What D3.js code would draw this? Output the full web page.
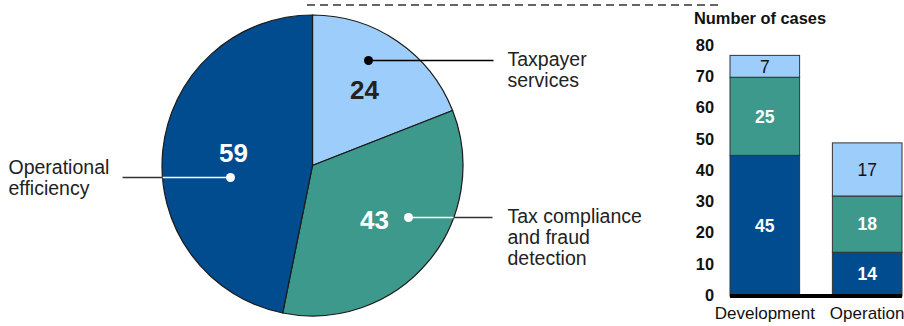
<!DOCTYPE html>
<html><head><meta charset="utf-8">
<script src="https://cdn.jsdelivr.net/npm/d3@7"></script>
<style>body{margin:0;background:#fff}svg{display:block}text{font-family:"Liberation Sans",Arial,sans-serif}</style>
</head><body>
<svg id="c" width="904" height="326"></svg>
<script>
const pieCategories = ["Taxpayer services", "Tax compliance and fraud detection", "Operational efficiency"];
const pieValues = [24, 43, 59];
const pieColors = ["#9dcdfa", "#3d998c", "#004c8f"];
const barCategories = ["Development", "Operation"];
const barSeriesNames = ["Operational efficiency", "Tax compliance and fraud detection", "Taxpayer services"];
const barValues = { "Operational efficiency": [45, 14], "Tax compliance and fraud detection": [25, 18], "Taxpayer services": [7, 17] };
const barColors = ["#004c8f", "#3d998c", "#9dcdfa"];
const yTicks = [0, 10, 20, 30, 40, 50, 60, 70, 80];

const svg = d3.select("#c");

// dashed line on top
svg.append("line").attr("x1", 307).attr("x2", 721).attr("y1", 5).attr("y2", 5)
  .attr("stroke", "#333").attr("stroke-width", 1.3).attr("stroke-dasharray", "8,5");

// PIE
const cx = 312.5, cy = 165.5, R = 150.5;
const g = svg.append("g").attr("transform", `translate(${cx},${cy})`);
const pie = d3.pie().sort(null).value(d => d)(pieValues);
const arc = d3.arc().innerRadius(0).outerRadius(R);
g.selectAll("path").data(pie).join("path")
  .attr("d", arc).attr("fill", (d, i) => pieColors[i])
  .attr("stroke", "#1a1a1a").attr("stroke-width", 1.2);

const labelInfo = [
  { val: pieValues[0], tx: 52, ty: -76, tcol: "#222", dot: [56, -105], dotCol: "#000", lineEnd: 181, inner: "#000", outer: "#000", text: ["Taxpayer", "services"], textX: 195, textY: -99.5 },
  { val: pieValues[1], tx: 62, ty: 54, tcol: "#fff", dot: [96, 52], dotCol: "#fff", lineEnd: 180, inner: "#fff", outer: "#333", text: ["Tax compliance", "and fraud", "detection"], textX: 195, textY: 57 },
  { val: pieValues[2], tx: -79, ty: -13, tcol: "#fff", dot: [-82, 12], dotCol: "#fff", lineEnd: -190, inner: "#fff", outer: "#333", text: ["Operational", "efficiency"], textX: -304, textY: 8 }
];
labelInfo.forEach(L => {
  g.append("text").attr("x", L.tx).attr("y", L.ty).attr("text-anchor", "middle").attr("dominant-baseline", "central")
    .attr("font-size", 26).attr("font-weight", "bold").attr("fill", L.tcol).text(L.val);
  const y = L.dot[1];
  const edge = Math.sqrt(R * R - y * y) * Math.sign(L.lineEnd);
  g.append("line").attr("x1", L.dot[0]).attr("x2", edge).attr("y1", y).attr("y2", y)
    .attr("stroke", L.inner).attr("stroke-width", 1.5);
  g.append("line").attr("x1", edge).attr("x2", L.lineEnd).attr("y1", y).attr("y2", y)
    .attr("stroke", L.outer).attr("stroke-width", 1.5);
  g.append("circle").attr("cx", L.dot[0]).attr("cy", y).attr("r", 4.5).attr("fill", L.dotCol);
  const t = g.append("text").attr("x", L.textX).attr("y", L.textY).attr("font-size", 19.5).attr("fill", "#222");
  L.text.forEach((s, i) => t.append("tspan").attr("x", L.textX).attr("dy", i === 0 ? "0" : "1.1em").text(s));
});

// BAR CHART
const x = d3.scaleBand().domain(barCategories).range([730, 902]).paddingInner(0.32).paddingOuter(0);
const y = d3.scaleLinear().domain([0, 80]).range([296, 46]);
svg.append("text").attr("x", 694).attr("y", 24).attr("font-size", 16.4).attr("font-weight", "bold").attr("fill", "#111").text("Number of cases");

const yAxis = svg.append("g").attr("transform", "translate(714,0)")
  .call(d3.axisLeft(y).tickValues(yTicks).tickSize(0).tickPadding(0));
yAxis.select(".domain").remove();
yAxis.selectAll("text").attr("font-size", 16.4).attr("font-weight", "bold").attr("fill", "#111")
  .attr("font-family", "Liberation Sans, Arial, sans-serif").attr("text-anchor", "end").attr("dy", "0.36em");
yAxis.selectAll(".tick").attr("transform", d => `translate(0,${y(d) - 1})`);

const stack = d3.stack().keys(barSeriesNames)(barCategories.map((c, i) => {
  const o = { cat: c };
  barSeriesNames.forEach(k => o[k] = barValues[k][i]);
  return o;
}));
stack.forEach((s, si) => {
  svg.append("g").selectAll("rect").data(s).join("rect")
    .attr("x", d => x(d.data.cat)).attr("width", x.bandwidth())
    .attr("y", d => y(d[1])).attr("height", d => y(d[0]) - y(d[1]))
    .attr("fill", barColors[si]).attr("stroke", "#333").attr("stroke-width", 1);
  svg.append("g").selectAll("text").data(s).join("text")
    .attr("x", d => x(d.data.cat) + x.bandwidth() / 2)
    .attr("y", d => (y(d[0]) + y(d[1])) / 2).attr("dy", "0.36em")
    .attr("text-anchor", "middle").attr("font-size", 17.5)
    .attr("font-weight", si === 2 ? "normal" : "bold")
    .attr("fill", si === 2 ? "#111" : "#fff")
    .text(d => d[1] - d[0]);
});
svg.append("line").attr("x1", 730).attr("x2", 902).attr("y1", y(0)).attr("y2", y(0))
  .attr("stroke", "#000").attr("stroke-width", 4);

svg.append("g").selectAll("text").data(barCategories).join("text")
  .attr("x", d => x(d) + x.bandwidth() / 2).attr("y", 319).attr("text-anchor", "middle")
  .attr("font-size", 17).attr("fill", "#111").text(d => d);
</script>
</body></html>
